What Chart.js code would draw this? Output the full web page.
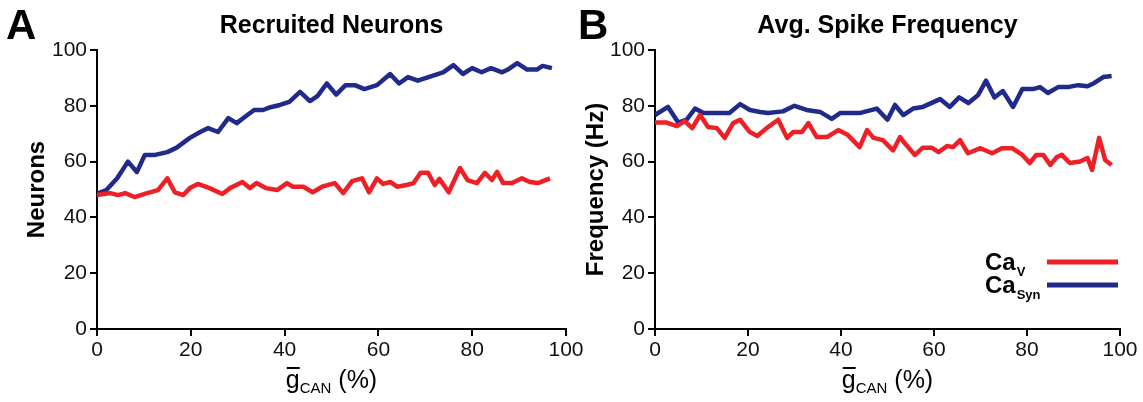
<!DOCTYPE html>
<html>
<head>
<meta charset="utf-8">
<script src="https://cdn.jsdelivr.net/npm/chart.js@4.4.1/dist/chart.umd.min.js"></script>
<style>
  html, body { margin: 0; padding: 0; background: #fff; }
  #wrap { position: relative; width: 1143px; height: 402px; }
  #boxA { position: absolute; left: 0; top: 0; width: 600px; height: 402px; }
  #boxB { position: absolute; left: 575px; top: 0; width: 568px; height: 402px; }
</style>
</head>
<body>
<div id="wrap">
  <div id="boxA"><canvas id="chartA"></canvas></div>
  <div id="boxB"><canvas id="chartB"></canvas></div>
</div>
<script>
// Panel A: recruited neurons vs gCAN (%)
var xA_syn = [0, 2, 4.3, 6.6, 8.5, 10.2, 12.4, 15, 17, 19.8, 22, 23.7, 25.8, 28, 29.8, 31.5, 33.5, 35.4, 37, 39,
  41, 43.3, 45.4, 47, 49, 51, 53, 55, 57, 59.7, 62.5, 64.4, 66.3, 68.4, 71, 73.8, 76, 78, 80, 82,
  84, 86.4, 87.6, 89.6, 91.7, 93.8, 95, 97];
var yA_syn = [48.5, 49.8, 54, 60, 56.3, 62.4, 62.4, 63.4, 65, 68.5, 70.6, 72, 70.6, 75.6, 73.8, 76, 78.5, 78.5, 79.5, 80.3,
  81.4, 85, 81.7, 83.5, 88, 84, 87.4, 87.4, 86, 87.4, 91.4, 88, 90.3, 89, 90.5, 92, 94.6, 91.4, 93.5, 92,
  93.5, 92, 93, 95.3, 93, 93, 94.3, 93.5];
var xA_v = [0, 2.8, 4.5, 6, 8, 10.7, 13, 15, 16.6, 18.4, 19.8, 21.5, 24, 26.7, 28.4, 31, 32.6, 34, 36, 38.4,
  40.5, 41.8, 44, 46, 48, 50.7, 52.5, 54.4, 56.5, 58, 59.7, 61, 62.5, 64, 66, 67.5, 69, 70.6, 72, 73,
  75, 77.4, 79, 81, 82.7, 84.2, 85.3, 86.6, 88.5, 90.6, 92.3, 94, 96.6];
var yA_v = [48, 48.7, 48, 48.7, 47.3, 48.7, 49.8, 54, 49, 48, 50.5, 52, 50.5, 48.4, 50.5, 52.7, 50.5, 52.3, 50.5, 49.8,
  52.3, 51, 51, 49, 51, 52.3, 48.7, 53, 54, 49, 54, 52, 52.7, 51, 51.6, 52.3, 56, 56, 51.6, 53.8,
  49, 57.7, 53.4, 52.3, 56, 53.4, 56.3, 52.3, 52.3, 54, 52.7, 52.3, 54];

// Panel B: average spike frequency (Hz) vs gCAN (%)
var xB_syn = [0, 2.8, 5, 6.8, 8.6, 10.4, 13, 16, 18.3, 20.4, 22.6, 24.3, 27.5, 30, 32.6, 35.5, 38, 39.8, 44, 47.7,
  50, 51.6, 53.4, 55.5, 57.6, 61.3, 63.4, 65.4, 67.4, 69.5, 71.2, 73, 74.8, 77, 79, 81.3, 82.8, 84.5, 86.7, 88.8,
  91, 93, 94.3, 96.4, 98.2];
var yB_syn = [76.7, 79.6, 74, 75, 79, 77.4, 77.4, 77.4, 80.6, 78.5, 77.8, 77.4, 78, 80, 78.5, 77.8, 75.3, 77.4, 77.4, 79,
  75, 80.3, 76.7, 79, 79.6, 82.4, 79.6, 83, 81, 83.9, 89, 83, 85.3, 79.6, 86, 86, 86.7, 84.6, 86.7, 86.7,
  87.4, 87, 88, 90.3, 90.7];
var xB_v = [0, 2.5, 4.7, 6.4, 8, 9.7, 11.4, 13.3, 15, 16.8, 18.3, 20.4, 22, 24, 26.5, 28.4, 29.7, 31.6, 33, 34.8,
  37, 39.4, 41.5, 44, 45.6, 47, 49, 51.2, 52.7, 54, 55.9, 57.6, 59.5, 61, 62.8, 64.1, 65.6, 67.3, 70, 72.5,
  74.6, 76.8, 79, 80.6, 82, 83.5, 85, 86.4, 87.5, 89.2, 91.4, 93, 94, 95.5, 96.8, 98.2];
var yB_v = [74, 74, 72.7, 74.5, 72, 76.7, 72.4, 72, 68.5, 73.8, 75, 70.6, 69.2, 72, 75, 68.5, 70.6, 70.6, 73.8, 68.8,
  68.8, 71.3, 69.5, 65.2, 71.3, 68.5, 67.7, 64, 68.8, 66, 62.4, 65, 65, 63.4, 65.6, 65.2, 67.7, 63, 64.8, 63,
  64.8, 64.8, 62.4, 59.5, 62.4, 62.4, 58.8, 61.6, 62.4, 59.5, 60, 61.3, 57, 68.5, 60.6, 58.8];

var xTicks = [0, 20, 40, 60, 80, 100];
var yTicks = [0, 20, 40, 60, 80, 100];

var RED = 'rgb(238,32,38)';
var BLUE = 'rgb(32,42,138)';
var FONT = '"Liberation Sans", Arial, Helvetica, sans-serif';

function pts(xs, ys) {
  return xs.map(function (x, i) { return { x: x, y: ys[i] }; });
}

// titles, panel letters, axis titles and legend drawn as canvas text
var panelText = {
  id: 'panelText',
  afterDraw: function (chart, args, o) {
    var ctx = chart.ctx, a = chart.chartArea;
    var cx = (a.left + a.right) / 2;
    ctx.save();
    ctx.fillStyle = '#000';
    ctx.textBaseline = 'alphabetic';

    ctx.textAlign = 'left';
    ctx.font = 'bold 42px ' + FONT;
    ctx.fillText(o.letter, o.letterX, 39);

    ctx.textAlign = 'center';
    ctx.font = 'bold 25px ' + FONT;
    ctx.fillText(o.title, cx, 33);

    ctx.save();
    ctx.translate(o.yTitleX, (a.top + a.bottom) / 2);
    ctx.rotate(-Math.PI / 2);
    ctx.font = 'bold 24px ' + FONT;
    ctx.fillText(o.yTitle, 0, 0);
    ctx.restore();

    // x title: g-bar with CAN subscript, then (%)
    ctx.textAlign = 'left';
    var big = '25px ' + FONT, small = '15px ' + FONT;
    ctx.font = big;
    var wg = ctx.measureText('g').width;
    var wp = ctx.measureText(' (%)').width;
    ctx.font = small;
    var ws = ctx.measureText('CAN').width;
    var x0 = cx - (wg + ws + wp) / 2, base = 388;
    ctx.font = big;
    ctx.fillText('g', x0, base);
    ctx.fillRect(x0 + 1, base - 21, wg - 1, 2);
    ctx.font = small;
    ctx.fillText('CAN', x0 + wg, base + 5);
    ctx.font = big;
    ctx.fillText(' (%)', x0 + wg + ws, base);

    if (o.legend) {
      var lx1 = a.right - 73, lx2 = a.right - 2;
      o.legend.forEach(function (it) {
        var y = a.bottom + it.dy;
        ctx.strokeStyle = it.color;
        ctx.lineWidth = 5;
        ctx.beginPath();
        ctx.moveTo(lx1, y);
        ctx.lineTo(lx2, y);
        ctx.stroke();
        ctx.font = 'bold 24px ' + FONT;
        var tx = lx1 - 62;
        var wc = ctx.measureText('Ca').width;
        ctx.fillText('Ca', tx, y + 8);
        ctx.font = 'bold 13px ' + FONT;
        ctx.fillText(it.sub, tx + wc + 1, y + 14);
      });
    }
    ctx.restore();
  }
};

function makeChart(id, sets, padRight, yAxisW, text) {
  return new Chart(document.getElementById(id), {
    type: 'line',
    data: {
      datasets: sets.map(function (s) {
        return {
          data: s.data,
          borderColor: s.color,
          borderWidth: 4.5,
          pointRadius: 0,
          tension: 0,
          fill: false,
          borderJoinStyle: 'round'
        };
      })
    },
    options: {
      animation: false,
      responsive: true,
      maintainAspectRatio: false,
      layout: { padding: { top: 50, right: padRight, bottom: 0, left: 0 } },
      plugins: {
        legend: { display: false },
        tooltip: { enabled: false },
        panelText: text
      },
      scales: {
        x: {
          type: 'linear',
          min: 0,
          max: 100,
          afterBuildTicks: function (s) { s.ticks = xTicks.map(function (v) { return { value: v }; }); },
          afterFit: function (s) { s.height = 73; s.paddingLeft = 0; s.paddingRight = 0; },
          grid: { display: true, drawOnChartArea: false, drawTicks: true, tickLength: 7, color: '#000', lineWidth: 2 },
          border: { display: true, color: '#000', width: 2 },
          ticks: { color: '#111', font: { family: FONT, size: 21 }, padding: 2, maxRotation: 0 }
        },
        y: {
          type: 'linear',
          min: 0,
          max: 100,
          afterBuildTicks: function (s) { s.ticks = yTicks.map(function (v) { return { value: v }; }); },
          afterFit: function (s) { s.width = yAxisW; s.paddingTop = 0; s.paddingBottom = 0; },
          grid: { display: true, drawOnChartArea: false, drawTicks: true, tickLength: 7, color: '#000', lineWidth: 2 },
          border: { display: true, color: '#000', width: 2 },
          ticks: { color: '#111', font: { family: FONT, size: 21 }, padding: 3 }
        }
      }
    },
    plugins: [panelText]
  });
}

makeChart('chartA', [
  { data: pts(xA_v, yA_v), color: RED },
  { data: pts(xA_syn, yA_syn), color: BLUE }
], 34, 97, { letter: 'A', letterX: 6, title: 'Recruited Neurons', yTitle: 'Neurons', yTitleX: 44 });

makeChart('chartB', [
  { data: pts(xB_v, yB_v), color: RED },
  { data: pts(xB_syn, yB_syn), color: BLUE }
], 23, 80, {
  letter: 'B', letterX: 3, title: 'Avg. Spike Frequency', yTitle: 'Frequency (Hz)', yTitleX: 28,
  legend: [{ sub: 'V', color: RED, dy: -67 }, { sub: 'Syn', color: BLUE, dy: -44 }]
});
</script>
</body>
</html>
